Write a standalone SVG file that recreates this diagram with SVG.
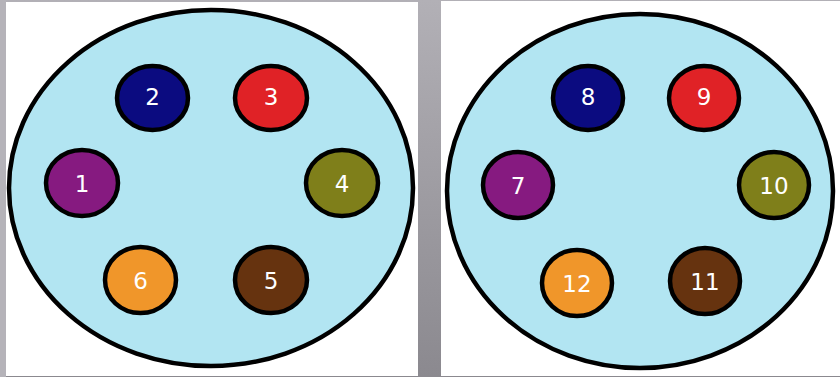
<svg xmlns="http://www.w3.org/2000/svg" width="840" height="377" viewBox="0 0 840 377">
<defs>
<linearGradient id="bg" x1="0" y1="0" x2="0" y2="1">
<stop offset="0" stop-color="#b2b0b6"/>
<stop offset="1" stop-color="#8b898f"/>
</linearGradient>
</defs>
<style>
.plate{fill:#b2e5f2;stroke:#000;stroke-width:4.5}
.pin{stroke:#000;stroke-width:4.5}
.lbl{font-family:"DejaVu Sans",Verdana,sans-serif;font-size:23px;fill:#fff;text-anchor:middle;dominant-baseline:central}
</style>
<rect x="0" y="0" width="840" height="377" fill="url(#bg)"/>
<rect x="0" y="0" width="6" height="377" fill="#b5b3b9"/>
<rect x="6" y="2" width="412" height="374" fill="#fff"/>
<rect x="441" y="1" width="399" height="375" fill="#fff"/>
<g id="left-plate">
<ellipse class="plate" cx="211" cy="188" rx="202" ry="178"/>
</g>
<g id="right-plate">
<ellipse class="plate" cx="640" cy="191" rx="193" ry="177"/>
</g>
<g id="pin1"><ellipse class="pin" fill="#861a80" cx="82" cy="183" rx="36" ry="33"/><text class="lbl" x="82" y="184">1</text></g>
<g id="pin2"><ellipse class="pin" fill="#0b0b80" cx="152.5" cy="98" rx="35.5" ry="32"/><text class="lbl" x="152.5" y="97">2</text></g>
<g id="pin3"><ellipse class="pin" fill="#e02226" cx="271" cy="98" rx="36" ry="32"/><text class="lbl" x="271" y="97">3</text></g>
<g id="pin4"><ellipse class="pin" fill="#7f7f1a" cx="342" cy="183" rx="36" ry="33"/><text class="lbl" x="342" y="184">4</text></g>
<g id="pin5"><ellipse class="pin" fill="#66330f" cx="271" cy="280" rx="36" ry="33"/><text class="lbl" x="271" y="281">5</text></g>
<g id="pin6"><ellipse class="pin" fill="#f0962a" cx="140.5" cy="280" rx="35.5" ry="33"/><text class="lbl" x="140.5" y="281">6</text></g>
<g id="pin7"><ellipse class="pin" fill="#861a80" cx="518" cy="185" rx="35" ry="33"/><text class="lbl" x="518" y="186">7</text></g>
<g id="pin8"><ellipse class="pin" fill="#0b0b80" cx="588" cy="98" rx="35" ry="32"/><text class="lbl" x="588" y="97">8</text></g>
<g id="pin9"><ellipse class="pin" fill="#e02226" cx="704" cy="98" rx="35" ry="32"/><text class="lbl" x="704" y="97">9</text></g>
<g id="pin10"><ellipse class="pin" fill="#7f7f1a" cx="774" cy="185" rx="35" ry="33"/><text class="lbl" x="774" y="186">10</text></g>
<g id="pin11"><ellipse class="pin" fill="#66330f" cx="705" cy="281" rx="35" ry="33"/><text class="lbl" x="705" y="282">11</text></g>
<g id="pin12"><ellipse class="pin" fill="#f0962a" cx="577" cy="283" rx="35" ry="33"/><text class="lbl" x="577" y="284">12</text></g>
<g id="connectors"/>
</svg>
